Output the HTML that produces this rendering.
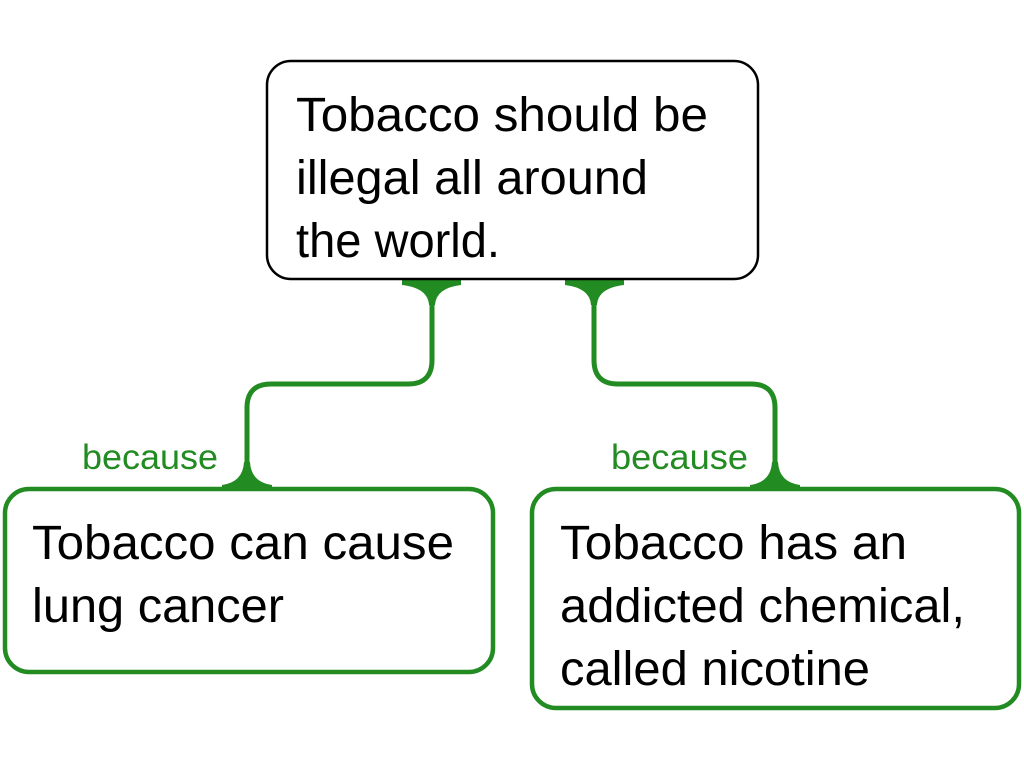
<!DOCTYPE html>
<html><head><style>
html,body{margin:0;padding:0;background:#fff;}
svg{display:block}
text{font-family:"Liberation Sans",Arial,sans-serif;}
</style></head><body>
<svg width="1024" height="768" viewBox="0 0 1024 768" xmlns="http://www.w3.org/2000/svg">
<g fill="none" stroke="#228B22" stroke-width="5">
<path d="M432 290 V360 Q432 384 408 384 H271 Q247 384 247 408 V488"/>
<path d="M594 290 V360 Q594 384 618 384 H751 Q775 384 775 408 V488"/>
</g>
<g fill="#228B22">
<path d="M402 279 H461 V285 Q436 288 435 305 H429 Q428 288 402 285 Z"/>
<path d="M565 279 H624 V285 Q598 288 597 305 H591 Q590 288 565 285 Z"/>
<path d="M222 490 H272 V485 Q251 482 250 462 H244 Q243 482 222 485 Z"/>
<path d="M750 490 H800 V485 Q779 482 778 462 H772 Q771 482 750 485 Z"/>
</g>
<rect x="267" y="61" width="491" height="218" rx="24" fill="#fff" stroke="#000" stroke-width="2.5"/>
<rect x="5" y="489" width="488" height="183" rx="24" fill="#fff" stroke="#228B22" stroke-width="4.5"/>
<rect x="532" y="489" width="487" height="219" rx="24" fill="#fff" stroke="#228B22" stroke-width="4.5"/>
<g font-size="48" fill="#000" lengthAdjust="spacingAndGlyphs">
<text x="296" y="131" textLength="412" lengthAdjust="spacingAndGlyphs">Tobacco should be</text>
<text x="296" y="194" textLength="352" lengthAdjust="spacingAndGlyphs">illegal all around</text>
<text x="296" y="257" textLength="204" lengthAdjust="spacingAndGlyphs">the world.</text>
<text x="32" y="559" textLength="422" lengthAdjust="spacingAndGlyphs">Tobacco can cause</text>
<text x="32" y="622" textLength="252" lengthAdjust="spacingAndGlyphs">lung cancer</text>
<text x="560" y="559" textLength="347" lengthAdjust="spacingAndGlyphs">Tobacco has an</text>
<text x="560" y="622" textLength="405" lengthAdjust="spacingAndGlyphs">addicted chemical,</text>
<text x="560" y="685" textLength="310" lengthAdjust="spacingAndGlyphs">called nicotine</text>
</g>
<g font-size="35" fill="#228B22">
<text x="82" y="469" textLength="136" lengthAdjust="spacingAndGlyphs">because</text>
<text x="611" y="469" textLength="137" lengthAdjust="spacingAndGlyphs">because</text>
</g>
</svg>
</body></html>
